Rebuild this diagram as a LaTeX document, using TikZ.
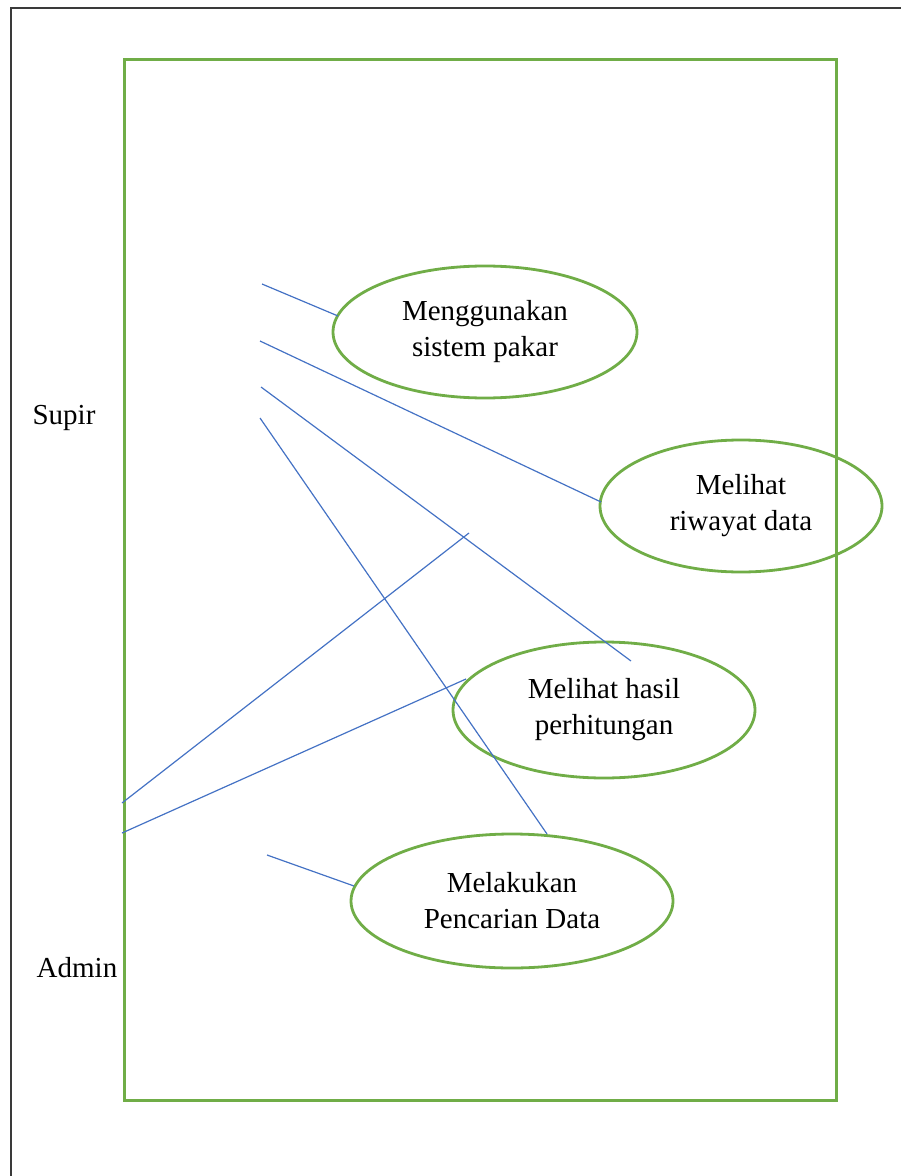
\documentclass[tikz,border=0pt]{standalone}
\usepackage{fontspec}
\setmainfont{Liberation Serif}
\usetikzlibrary{shapes.geometric}
\definecolor{ucgreen}{HTML}{70AD47}
\definecolor{ucblue}{HTML}{4472C4}
\definecolor{framegray}{HTML}{3A3A3A}
\begin{document}
\begin{tikzpicture}[x=0.5pt,y=-0.5pt,
  usecase/.style={ellipse,draw=ucgreen,line width=1.4pt,align=center,
    font=\fontsize{14.5}{18}\selectfont,inner sep=0pt},
  link/.style={draw=ucblue,line width=0.6pt},
  actorlabel/.style={font=\fontsize{14.5}{18}\selectfont,inner sep=0pt}]
  \useasboundingbox (0,0) rectangle (900,1176);
  % page frame (continues beyond the right and bottom edges)
  \draw[framegray,line width=1pt] (11,1180) -- (11,8) -- (904,8);
  % system boundary
  \draw[ucgreen,line width=1.5pt] (124,60) rectangle (836,1100);

  % use cases
  \node[usecase,minimum width=152pt,minimum height=66pt] (uc1) at (485,332) {Menggunakan\\sistem pakar};
  \node[usecase,minimum width=141pt,minimum height=66pt] (uc2) at (741,506) {Melihat\\riwayat data};
  \node[usecase,minimum width=151pt,minimum height=68pt] (uc3) at (604,710) {Melihat hasil\\perhitungan};
  \node[usecase,minimum width=161pt,minimum height=67pt] (uc4) at (512,901) {Melakukan\\Pencarian Data};

  % actors
  \node[actorlabel] (supir) at (64,418) {Supir};
  \node[actorlabel] (admin) at (77,968) {Admin};

  % connector end points
  \coordinate (s1) at (262,284);
  \coordinate (s2) at (260,341);
  \coordinate (s3) at (261,387);
  \coordinate (s4) at (260,418);
  \coordinate (a1) at (122,803);
  \coordinate (a2) at (122,833);
  \coordinate (a3) at (267,855);
  \coordinate (e1) at (338,316);
  \coordinate (e2) at (601,502);
  \coordinate (e3) at (631,661);
  \coordinate (e4) at (547,834);
  \coordinate (e5) at (469,533);
  \coordinate (e6) at (466,679);
  \coordinate (e7) at (354,886);

  \draw[link] (s1) -- (e1);
  \draw[link] (s2) -- (e2);
  \draw[link] (s3) -- (e3);
  \draw[link] (s4) -- (e4);
  \draw[link] (a1) -- (e5);
  \draw[link] (a2) -- (e6);
  \draw[link] (a3) -- (e7);
\end{tikzpicture}
\end{document}
